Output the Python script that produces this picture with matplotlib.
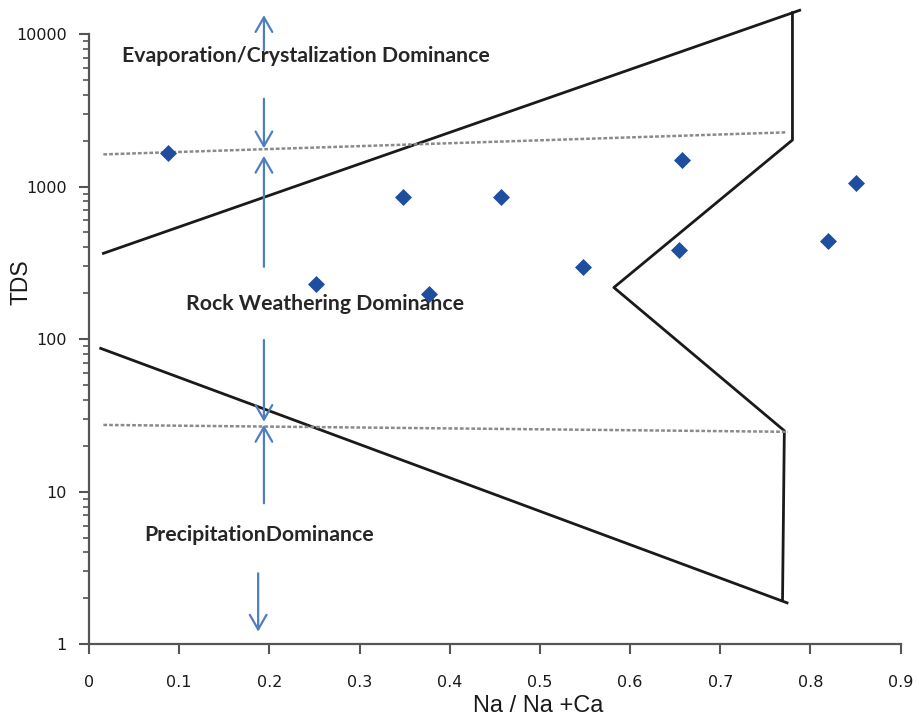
import numpy as np
import matplotlib
matplotlib.use('Agg')
import matplotlib.pyplot as plt
from matplotlib.ticker import FixedLocator, LogLocator, NullFormatter

# sample points (Na/(Na+Ca), TDS)
na_ratio = [0.088, 0.252, 0.348, 0.377, 0.457, 0.548, 0.657, 0.654, 0.851, 0.819]
tds = [1660, 230, 857, 198, 850, 297, 1500, 384, 1060, 442]

# Gibbs boundary lines
upper_x = [0.016, 0.788]
upper_y = [365, 14300]
right_x = [0.780, 0.780, 0.582, 0.771, 0.769]
right_y = [13800, 2020, 218, 25.1, 1.95]
lower_x = [0.774, 0.013]
lower_y = [1.87, 87]

# dotted separators
dot_hi_x = [0.016, 0.772]
dot_hi_y = [1625, 2265]
dot_lo_x = [0.016, 0.775]
dot_lo_y = [27.4, 24.7]

# arrows: x, tail, head
arrow_x = [0.194, 0.194, 0.194, 0.194, 0.194, 0.1876]
arrow_tail = [7850, 3760, 298, 98.7, 8.4, 2.92]
arrow_head = [13300, 1780, 1590, 28.7, 27.4, 1.21]

labels = ['Evaporation/Crystalization Dominance', 'Rock Weathering Dominance', 'PrecipitationDominance']
label_x = [0.240, 0.2613, 0.1884]
label_y = [7200, 170, 5.2]

xticks = [0, 0.1, 0.2, 0.3, 0.4, 0.5, 0.6, 0.7, 0.8, 0.9]
yticks = [1, 10, 100, 1000, 10000]

fig = plt.figure(figsize=(9.2, 7.17), dpi=100)
ax = fig.add_axes([0.0967, 0.1014, 0.8823, 0.8512])
ax.set_yscale('log')
ax.set_xlim(0, 0.9)
ax.set_ylim(1, 10000)

ax.plot(upper_x, upper_y, color='#1a1a1a', lw=2, clip_on=False)
ax.plot(right_x, right_y, color='#1a1a1a', lw=2, clip_on=False)
ax.plot(lower_x, lower_y, color='#1a1a1a', lw=2, clip_on=False)

ax.plot(dot_hi_x, dot_hi_y, color='#8a8a8a', lw=1.8, ls=(0, (1.5, 0.8)))
ax.plot(dot_lo_x, dot_lo_y, color='#8a8a8a', lw=1.8, ls=(0, (1.5, 0.8)))

for x, t, h in zip(arrow_x, arrow_tail, arrow_head):
    ax.annotate('', xy=(x, h), xytext=(x, t), annotation_clip=False,
                arrowprops=dict(arrowstyle='->,head_length=0.7,head_width=0.4',
                                color='#4f7fbb', lw=1.6, mutation_scale=15,
                                shrinkA=0, shrinkB=0))

ax.scatter(na_ratio, tds, marker='D', s=75, color='#1f4e9e', zorder=5, linewidths=0)

for txt, x, y in zip(labels, label_x, label_y):
    ax.text(x, y, txt, ha='center', va='center', fontsize=15.3, family='Lato',
            fontweight='bold', color='#262626')

for s in ['top', 'right']:
    ax.spines[s].set_visible(False)
for s in ['left', 'bottom']:
    ax.spines[s].set_color('#555555')
    ax.spines[s].set_linewidth(1.6)

ax.xaxis.set_major_locator(FixedLocator(xticks))
ax.set_xticklabels([f'{v:g}' for v in xticks])
ax.yaxis.set_major_locator(FixedLocator(yticks))
ax.set_yticklabels([str(v) for v in yticks])
ax.yaxis.set_minor_locator(LogLocator(base=10, subs=np.arange(2, 10)))
ax.yaxis.set_minor_formatter(NullFormatter())

ax.tick_params(axis='both', which='major', direction='out', length=7, width=1.5,
               color='#555555', labelsize=11.5, labelcolor='#1a1a1a')
ax.tick_params(axis='x', pad=15)
ax.tick_params(axis='y', pad=9)
ax.tick_params(axis='y', which='minor', direction='out', length=4, width=1.2, color='#555555')

ax.set_xlabel('Na / Na +Ca', fontsize=17, family='Liberation Sans', color='#1a1a1a')
ax.xaxis.set_label_coords(0.554, -0.083)
ax.set_ylabel('TDS', fontsize=16.5, family='Liberation Sans', color='#1a1a1a')
ax.yaxis.set_label_coords(-0.069, 0.594)

fig.savefig('out.png', dpi=100)
